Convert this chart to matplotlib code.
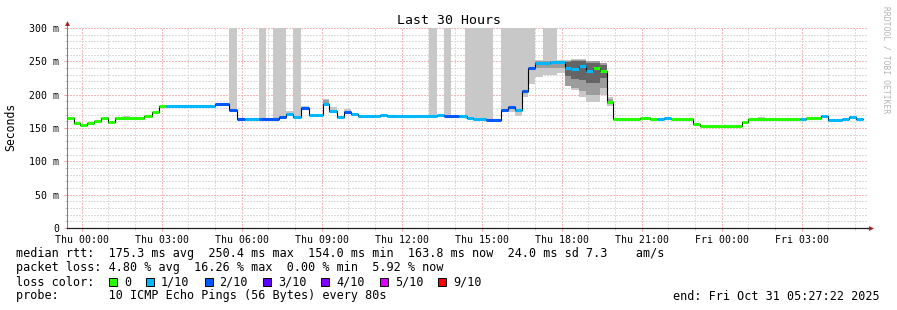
import numpy as np
import matplotlib
matplotlib.use('Agg')
import matplotlib.pyplot as plt
import matplotlib.dates as mdates
from matplotlib.ticker import MultipleLocator, FuncFormatter
from matplotlib.patches import Rectangle
from datetime import datetime, timedelta

# window: last 30 hours, ending Fri Oct 31 05:27:22 2025
t_end = datetime(2025, 10, 31, 5, 27, 22)
t_start = t_end - timedelta(hours=30)

# median rtt steps: edges in hours since window start, values in ms
seg_edges = [0, 0.26, 0.49, 0.75, 1.01, 1.28, 1.54, 1.80, 2.89, 3.19, 3.45, 3.71, 5.55,
             6.08, 6.38, 6.68, 7.20, 7.95, 8.21, 8.48, 8.78, 9.08, 9.60, 9.83, 10.13,
             10.39, 10.65, 10.91, 11.74, 12.00, 13.88, 14.14, 14.70, 15.00, 15.23, 15.71,
             16.28, 16.54, 16.80, 17.06, 17.29, 17.55, 18.11, 18.68, 18.90, 19.20, 19.46,
             19.73, 19.99, 20.25, 20.48, 21.49, 21.86, 22.13, 22.39, 22.65, 23.48, 23.74,
             25.31, 25.54, 27.49, 27.71, 28.28, 28.54, 29.06, 29.33, 29.59, 29.85]
median_ms = [164.5, 157.5, 154.5, 157, 160, 164.5, 159, 164.5, 168, 174, 183, 183, 185.5,
             177, 163, 163, 163, 167, 171, 166, 180, 169, 186, 176, 167, 174, 171, 168,
             169.5, 168, 169.5, 168, 167.5, 165, 163.5, 162.5, 177, 182, 177, 206, 240,
             248, 249, 240, 239, 243, 236, 240.5, 236, 189.5, 163, 164.5, 163, 163, 164.5,
             163, 156, 153.5, 159.5, 163, 163, 165, 167.5, 162.5, 164, 166, 163]
loss_class = [0, 0, 0, 0, 0, 0, 0, 0, 0, 0, 0, 1, 2, 2, 2, 1, 2, 2, 1, 1, 2, 1, 1, 1, 1,
              2, 1, 1, 1, 1, 1, 2, 1, 1, 1, 2, 2, 2, 1, 2, 2, 1, 1, 1, 1, 1, 1, 0, 0, 0,
              0, 0, 0, 1, 1, 0, 0, 0, 0, 0, 1, 0, 1, 1, 1, 1, 1]

# smoke (ping spread): start/end hours, low/high ms
smoke_start = [2.10, 6.08, 7.20, 7.73, 8.21, 8.48, 8.78, 9.60, 9.83, 10.39, 13.58, 14.14,
               14.93, 16.28, 16.80, 17.06, 17.29, 17.55, 17.85, 18.38, 18.68, 18.90, 19.20,
               19.46, 19.99, 20.25, 25.91]
smoke_end = [2.36, 6.38, 7.46, 8.21, 8.48, 8.78, 9.08, 9.83, 10.13, 10.65, 13.88, 14.40,
             15.98, 16.80, 17.06, 17.29, 17.55, 17.85, 18.38, 18.68, 18.90, 19.20, 19.46,
             19.99, 20.25, 20.48, 26.18]
smoke_lo = [164, 176, 163, 164, 170, 166, 179, 183, 172, 171, 168, 168, 163, 174, 168, 197,
            216, 226, 230, 232, 214, 207, 197, 189, 200, 183, 163]
smoke_hi = [168, 300, 300, 300, 176, 300, 183, 194, 181, 179, 300, 300, 300, 300, 300, 300,
            300, 252, 300, 252, 252, 253, 253, 251, 248, 196, 166]

# inner (denser) smoke
mid_start = [9.60, 17.55, 18.68, 18.90, 19.20, 19.46, 19.99, 20.25]
mid_end = [9.83, 18.68, 18.90, 19.20, 19.46, 19.99, 20.25, 20.48]
mid_lo = [186, 240, 213, 210, 205, 200, 210, 186]
mid_hi = [192, 250, 251, 252, 252, 250, 247, 193]

dark_start = [18.68, 18.90, 19.20, 19.46, 19.99]
dark_end = [18.90, 19.20, 19.46, 19.99, 20.25]
dark_lo = [228, 224, 222, 218, 225]
dark_hi = [249, 250, 250, 248, 245]

loss_colors = ['#26ff00', '#00b8ff', '#0059ff', '#5e00ff', '#7e00ff', '#dd00ff', '#ff0000']
loss_labels = ['0', '1/10', '2/10', '3/10', '4/10', '5/10', '9/10']

stats_rtt = "median rtt:  175.3 ms avg  250.4 ms max  154.0 ms min  163.8 ms now  24.0 ms sd 7.3    am/s"
stats_loss = "packet loss: 4.80 % avg  16.26 % max  0.00 % min  5.92 % now"
probe_txt = "probe:       10 ICMP Echo Pings (56 Bytes) every 80s"
end_txt = "end: Fri Oct 31 05:27:22 2025"

MONO = 'DejaVu Sans Mono'
W, H = 897, 310
t0 = mdates.date2num(t_start)


def to_num(hours):
    return t0 + np.asarray(hours, dtype=float) / 24.0


def px(x, y):
    # figure fraction from pixel position (origin top-left)
    return x / W, 1 - y / H


fig = plt.figure(figsize=(W / 100, H / 100), dpi=100)
fig.patch.set_facecolor('white')
ax = fig.add_axes([67 / W, 82 / H, 800 / W, 200 / H])
ax.set_axisbelow(True)

# smoke layers
for st, en, lo, hi, col in [(smoke_start, smoke_end, smoke_lo, smoke_hi, '#c8c8c8'),
                            (mid_start, mid_end, mid_lo, mid_hi, '#9c9c9c'),
                            (dark_start, dark_end, dark_lo, dark_hi, '#656565')]:
    xs = to_num(st)
    ws = to_num(en) - xs
    ax.bar(xs, np.array(hi) - np.array(lo), width=ws, bottom=lo, align='edge',
           color=col, linewidth=0, zorder=2)

# median line
edges = to_num(seg_edges)
med = np.array(median_ms)
ax.step(edges, np.append(med, med[-1]), where='post', color='black', lw=0.8, zorder=3)
ax.hlines(med, edges[:-1], edges[1:], colors=[loss_colors[c] for c in loss_class],
          lw=2.2, zorder=4)

# scales
ax.set_xlim(t0, mdates.date2num(t_end))
ax.set_ylim(0, 300)
ax.xaxis_date()
ax.xaxis.set_major_locator(mdates.HourLocator(byhour=range(0, 24, 3)))
ax.xaxis.set_minor_locator(mdates.HourLocator())
ax.xaxis.set_major_formatter(mdates.DateFormatter('%a %H:%M'))
ax.yaxis.set_major_locator(MultipleLocator(50))
ax.yaxis.set_minor_locator(MultipleLocator(10))
ax.yaxis.set_major_formatter(FuncFormatter(lambda v, p: '0' if v == 0 else '%d m' % v))

ax.grid(which='minor', color='#dcdcdc', linestyle=(0, (1, 1)), lw=0.75, antialiased=False)
ax.grid(which='major', color='#f4b8b8', linestyle=(0, (1, 1)), lw=0.75, antialiased=False)

ax.tick_params(which='major', length=2.2, width=0.72, color='#f0a0a0', pad=2.5,
               labelsize=7.1)
ax.tick_params(which='minor', length=1.5, width=0.72, color='#c8c8c8')
ax.tick_params(axis='y', which='major', pad=3.6)
for lab in ax.get_xticklabels() + ax.get_yticklabels():
    lab.set_family(MONO)

for s in ['top', 'right']:
    ax.spines[s].set_visible(False)
ax.spines['left'].set_color('#808080')
ax.spines['left'].set_linewidth(0.8)
ax.spines['bottom'].set_color('#202020')
ax.spines['bottom'].set_linewidth(0.9)

# axis arrows
ax.plot([0, 0], [1, 1.02], color='#808080', lw=0.8, transform=ax.transAxes, clip_on=False)
ax.plot([1, 1.003], [0, 0], color='#202020', lw=0.9, transform=ax.transAxes, clip_on=False)
ax.plot([0], [1.024], marker='^', ms=3.5, color='#a02020', mew=0,
        transform=ax.transAxes, clip_on=False)
ax.plot([1.005], [0], marker='>', ms=3.5, color='#a02020', mew=0,
        transform=ax.transAxes, clip_on=False)

# texts
fig.text(*px(448.5, 20), 'Last 30 Hours', ha='center', va='center', family=MONO, size=9.5)
fig.text(*px(11, 127), 'Seconds', ha='center', va='center', rotation=90, family=MONO,
         size=8.3)
fig.text(*px(886, 60), 'RRDTOOL / TOBI OETIKER', ha='center', va='center', rotation=270,
         family=MONO, size=5.8, color='#b4b4b4')

fig.text(*px(16, 254), stats_rtt, ha='left', va='center', family=MONO, size=8.5)
fig.text(*px(16, 268), stats_loss, ha='left', va='center', family=MONO, size=8.5)
fig.text(*px(16, 282), 'loss color:', ha='left', va='center', family=MONO, size=8.5)
fig.text(*px(16, 296), probe_txt, ha='left', va='center', family=MONO, size=8.5)
fig.text(*px(880, 296), end_txt, ha='right', va='center', family=MONO, size=8.5)

# loss colour legend boxes
cx = 109.0
for col, lab in zip(loss_colors, loss_labels):
    bx, by = px(cx, 286)
    fig.add_artist(Rectangle((bx, by), 8 / W, 8 / H, transform=fig.transFigure,
                             facecolor=col, edgecolor='black', lw=0.7))
    fig.text(*px(cx + 15, 282), lab, ha='left', va='center', family=MONO, size=8.5)
    cx += 15 + len(lab) * 7.1 + 15

fig.savefig('out.png', dpi=100)
